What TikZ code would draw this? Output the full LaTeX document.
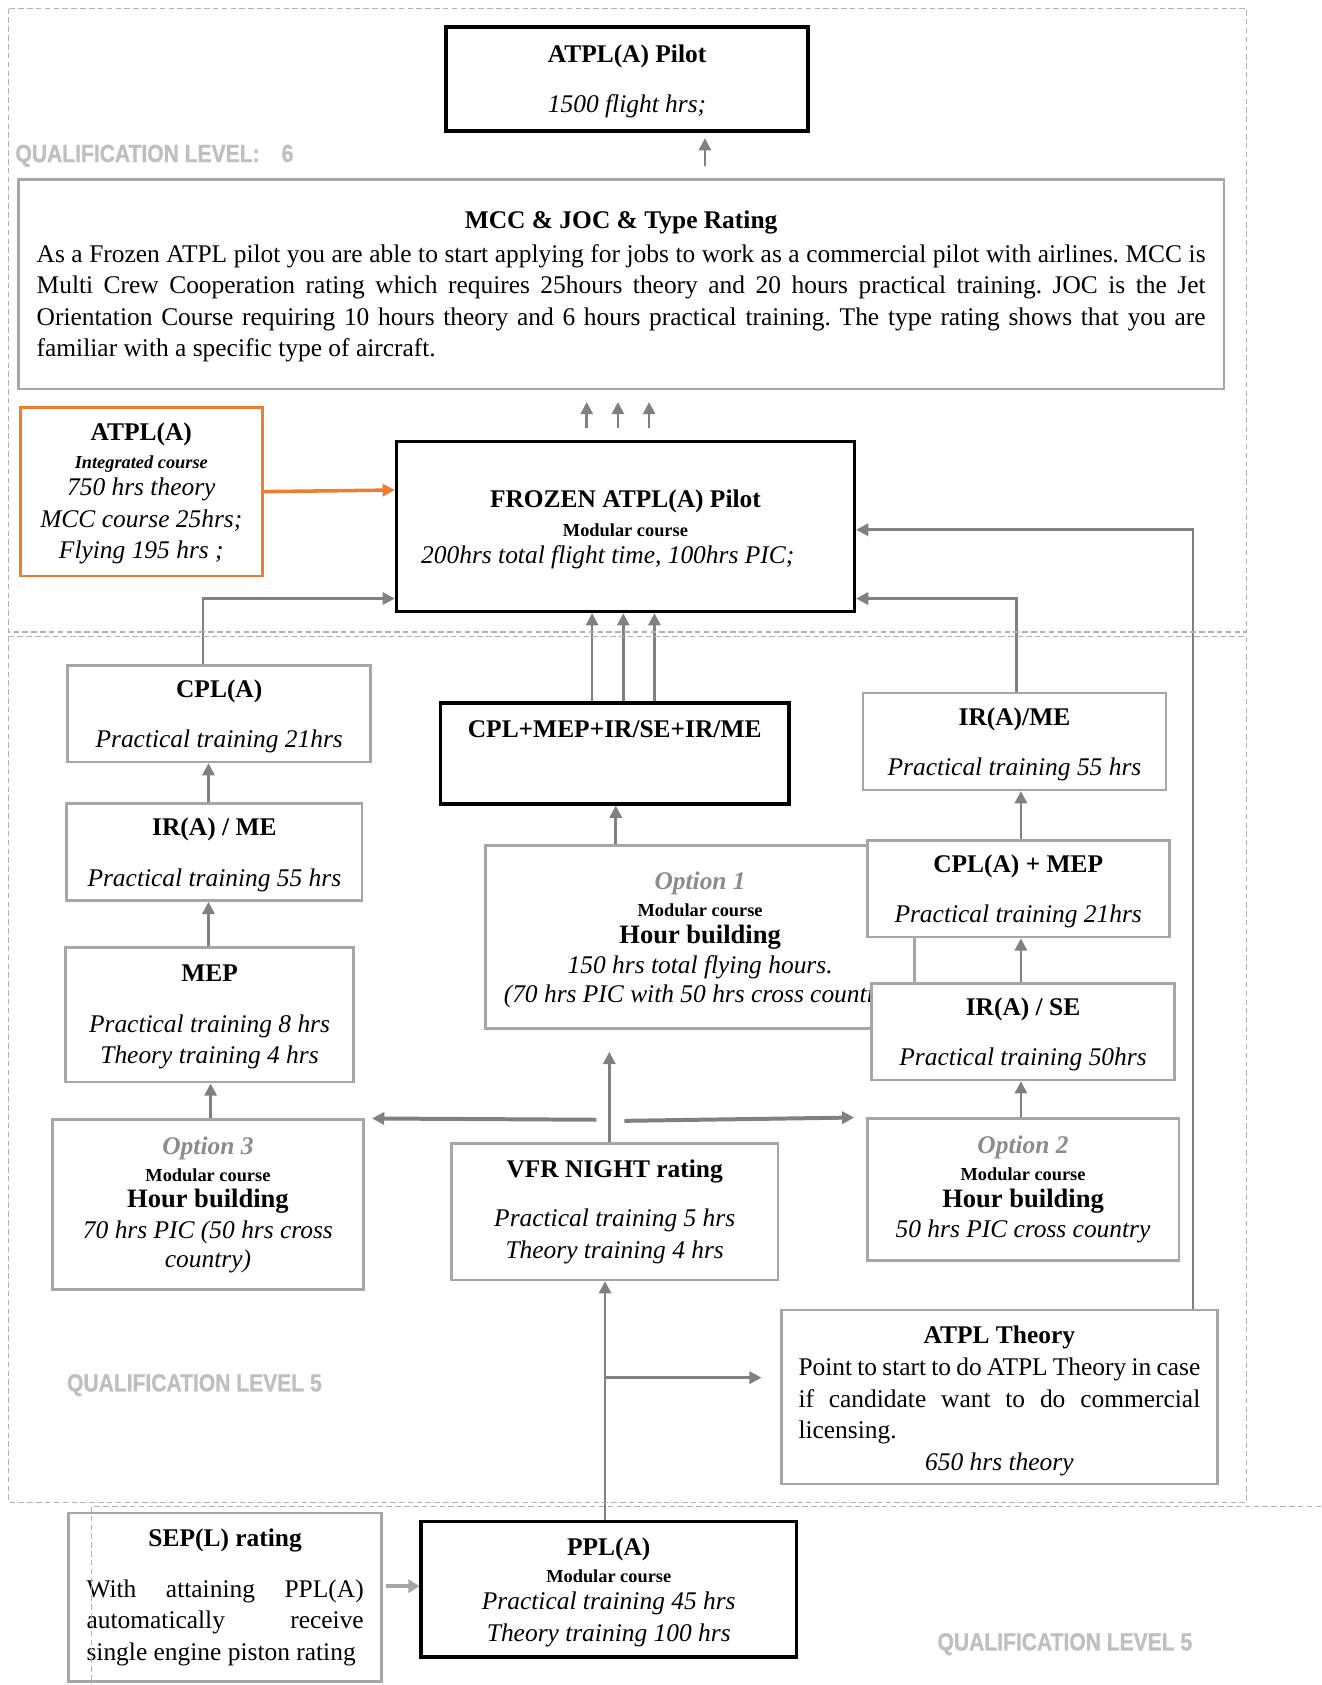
\documentclass[tikz,border=0pt]{standalone}
\usepackage{fontspec}
\setmainfont{Liberation Serif}
\newfontfamily\levelfont[FakeStretch=0.85,FakeBold=1]{Liberation Sans Bold}
\usetikzlibrary{arrows.meta,calc}
\frenchspacing

\definecolor{boxgrey}{HTML}{A6A6A6}
\definecolor{linkgrey}{HTML}{808080}
\definecolor{zonegrey}{HTML}{B0B0B0}
\definecolor{levelgrey}{HTML}{BFBFBF}
\definecolor{optgrey}{HTML}{8C8C8C}
\definecolor{atplorange}{HTML}{ED7D31}

\newcommand{\modular}{{\fontsize{8.3}{10}\selectfont\bfseries Modular course}}
\newcommand{\optlabel}[1]{{\color{optgrey}\bfseries\itshape Option #1}}
\newcommand{\hourbuild}{{\fontsize{12}{14.3}\selectfont\bfseries Hour building}}

\tikzset{
  boxsize/.style 2 args={minimum width=#1*0.01707cm, minimum height=#2*0.01707cm},
  gbox/.style={draw=boxgrey, line width=1.2pt, fill=white, inner sep=0pt, align=center},
  kbox/.style={draw=black, line width=1.6pt, fill=white, inner sep=0pt, align=center},
  obox/.style={draw=atplorange, line width=1.2pt, fill=white, inner sep=0pt, align=center},
  link/.style={draw=linkgrey, line width=1.2pt, -{Triangle[length=5.5pt,width=5.5pt]}},
  boldlink/.style={link, line width=1.8pt},
  level/.style={text=levelgrey, font=\levelfont\fontsize{11.2}{13}\selectfont, anchor=west, inner sep=0pt},
  zone/.style={draw=zonegrey, line width=0.6pt, dash pattern=on 2.5pt off 1.5pt}
}

\begin{document}
\begin{tikzpicture}[x=0.01707cm, y=-0.01707cm, font=\fontsize{11.5}{14.3}\selectfont]
\useasboundingbox (0,0) rectangle (1230,1568);

% level 6
\node[kbox, boxsize={337}{97}, text depth=0.5pt] (atplpilot) at (583.5,73.5)
  {\textbf{ATPL(A) Pilot}\\[8.5pt]\textit{1500 flight hrs;}};
\node[level] (lvlsix) at (14,145) {QUALIFICATION LEVEL:\hspace{10pt}6};
\node[gbox, boxsize={1122}{195}, text width=18.572cm, align=justify] (mcc) at (578,264.5)
  {{\centering\bfseries\rule{0pt}{10.3pt}MCC \& JOC \& Type Rating\par}\vspace{0.7pt}%
  As a Frozen ATPL pilot you are able to start applying for jobs to work as a commercial pilot with airlines. MCC is\linebreak
  Multi Crew Cooperation rating which requires 25hours theory and 20 hours practical training. JOC is the Jet\linebreak
  Orientation Course requiring 10 hours theory and 6 hours practical training. The type rating shows that you are\linebreak
  familiar with a specific type of aircraft.};
\node[obox, boxsize={225}{157}, text depth=0.5pt] (atpla) at (131.5,457.5)
  {\textbf{ATPL(A)}\\[-1.7pt]{\fontsize{8.3}{10}\selectfont\bfseries\itshape Integrated course}\\[-2.2pt]%
  \textit{750 hrs theory}\\\textit{MCC course 25hrs;}\\\textit{Flying 195 hrs ;}};
\node[kbox, boxsize={426}{158}, text depth=-0.9pt] (frozen) at (582,490)
  {\textbf{FROZEN ATPL(A) Pilot}\\[-1.2pt]\modular\\[-2.2pt]%
  \textit{200hrs total flight time, 100hrs PIC;}\hspace{16pt}\mbox{}};

% level 5, left column
\node[gbox, boxsize={282}{90}, text depth=-2.3pt] (cplL) at (204,664)
  {\textbf{CPL(A)}\\[8.5pt]\textit{Practical training 21hrs}};
\node[gbox, boxsize={275}{90}, text depth=-2.3pt] (irmeL) at (199.5,793)
  {\textbf{IR(A) / ME}\\[8.5pt]\textit{Practical training 55 hrs}};
\node[gbox, boxsize={268}{125}, text depth=0.5pt] (mep) at (195,944.5)
  {\textbf{MEP}\\[8.5pt]\textit{Practical training 8 hrs}\\\textit{Theory training 4 hrs}};
\node[gbox, boxsize={289}{158}] (opt3) at (193.5,1121)
  {\optlabel{3}\\[-2.2pt]\modular\\[-2.2pt]\hourbuild\\[-0.7pt]%
  \textit{70 hrs PIC (50 hrs cross}\\[-1.2pt]\textit{country)}};

% middle column
\node[kbox, boxsize={324}{94}, text depth=22pt] (combo) at (572,701)
  {\textbf{CPL+MEP+IR/SE+IR/ME}};
\node[gbox, boxsize={399}{170}, text depth=-0.5pt] (opt1) at (651.5,872)
  {\optlabel{1}\\[-2.2pt]\modular\\[-2.2pt]\hourbuild\\[-0.7pt]%
  \textit{150 hrs total flying hours.}\\[-1.2pt]\textit{(70 hrs PIC with 50 hrs cross country)}};
\node[gbox, boxsize={304}{127}] (vfr) at (572,1127.5)
  {\textbf{VFR NIGHT rating}\\[8pt]\textit{Practical training 5 hrs}\\\textit{Theory training 4 hrs}};

% right column
\node[gbox, boxsize={282}{90}, text depth=-2.3pt] (irmeR) at (944,690)
  {\textbf{IR(A)/ME}\\[8.5pt]\textit{Practical training 55 hrs}};
\node[gbox, boxsize={281}{90}, text depth=-2.3pt] (cplmepR) at (947.5,827)
  {\textbf{CPL(A) + MEP}\\[8.5pt]\textit{Practical training 21hrs}};
\node[gbox, boxsize={282}{90}, text depth=-2.3pt] (irse) at (952,960)
  {\textbf{IR(A) / SE}\\[8.5pt]\textit{Practical training 50hrs}};
\node[gbox, boxsize={290}{132}] (opt2) at (952,1107)
  {\optlabel{2}\\[-2.2pt]\modular\\[-2.2pt]\hourbuild\\[-0.7pt]\textit{50 hrs PIC cross country}};
\node[gbox, boxsize={406}{162}, text width=6.384cm, align=justify] (atpltheory) at (930,1300)
  {{\centering\bfseries\rule{0pt}{11.7pt}ATPL Theory\par}%
  Point to start to do ATPL Theory in case\linebreak if candidate want to do commercial\linebreak licensing.\par
  {\centering\itshape 650 hrs theory\par}};
\node[level] (lvlfive) at (62,1289) {QUALIFICATION LEVEL 5};

% base level
\node[gbox, boxsize={291}{157}, text width=4.404cm, align=justify] (sepl) at (209.5,1486.5)
  {{\centering\bfseries SEP(L) rating\par}\vspace{8.5pt}%
  With attaining PPL(A)\linebreak automatically receive\linebreak single engine piston rating};
\node[kbox, boxsize={349}{126}, text depth=-1.4pt] (ppl) at (566.5,1479)
  {\textbf{PPL(A)}\\[-1.7pt]\modular\\[-2.2pt]\textit{Practical training 45 hrs}\\\textit{Theory training 100 hrs}};
\node[level] (lvlbase) at (872,1530) {QUALIFICATION LEVEL 5};

% connectors
\draw[link, shorten <=5.3pt, shorten >=2.4pt] (mcc.north -| 656,0) -- (atplpilot.south -| 656,0);
\foreach \lx in {546,575,604}
  \draw[link, shorten <=5.3pt, shorten >=5.3pt] (frozen.north -| \lx,0) -- (mcc.south -| \lx,0);
\draw[atplorange, line width=1.6pt, -{Triangle[length=5.5pt,width=5.5pt]}] (atpla.east) -- (frozen.west |- 0,456);
\draw[link] (cplL.north -| 189,0) |- (frozen.west |- 0,557);
\draw[link] (irmeR.north -| 946,0) |- (frozen.east |- 0,557);
\draw[link] (atpltheory.north -| 1110,0) |- (frozen.east |- 0,493);
\foreach \lx in {551,580,609}
  \draw[link] (combo.north -| \lx,0) -- (frozen.south -| \lx,0);

\draw[link] (irmeL.north -| 194,0) -- (cplL.south -| 194,0);
\draw[link] (mep.north -| 194,0) -- (irmeL.south -| 194,0);
\draw[link] (opt3.north -| 196,0) -- (mep.south -| 196,0);
\draw[link] (opt1.north -| 573,0) -- (combo.south -| 573,0);
\draw[link] (cplmepR.north -| 950,0) -- (irmeR.south -| 950,0);
\draw[link] (irse.north -| 950,0) -- (cplmepR.south -| 950,0);
\draw[link] (opt2.north -| 950,0) -- (irse.south -| 950,0);

\coordinate (fork) at (567,1042);
\draw[link, shorten >=10pt] (vfr.north -| fork) -- (opt1.south -| fork);
\draw[boldlink, shorten >=3.4pt] ($(fork)+(-12,0)$) -- (opt3.north east);
\draw[boldlink, shorten >=5.3pt] ($(fork)+(14,1)$) -- (opt2.north west);

\coordinate (branch) at (563,1282);
\draw[link] (ppl.north -| branch) -- (vfr.south -| branch);
\draw[link, shorten >=8.3pt] (branch) -- (atpltheory.west |- branch);
\draw[boxgrey, line width=2pt, -{Triangle[length=5pt,width=6pt]}, shorten <=1.5pt]
  (sepl.east |- 0,1476) -- (ppl.west |- 0,1476);

% qualification zones
\draw[zone] (8,8) rectangle (1160,588);
\draw[zone] (8,592) rectangle (1160,1398);
\draw[zone] (85,1572) -- (85,1402) -- (1232,1402);
\end{tikzpicture}
\end{document}
